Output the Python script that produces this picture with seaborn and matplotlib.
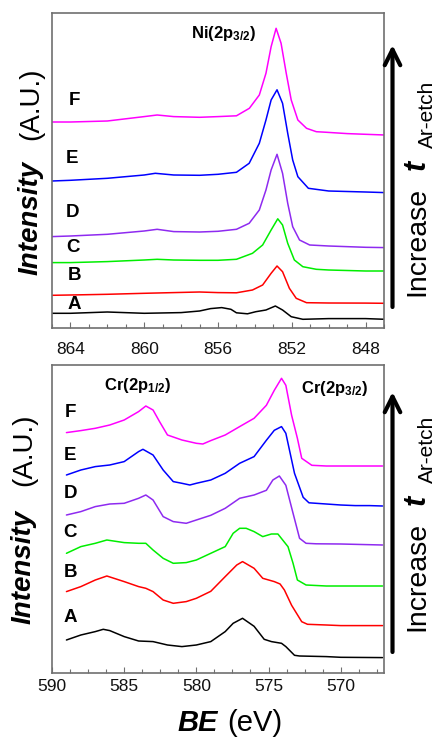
import numpy as np
import pandas as pd
import seaborn as sns
import matplotlib.pyplot as plt
from matplotlib.ticker import MultipleLocator

# Ni(2p3/2) spectra, top panel (BE in eV, stacked intensity)
ni_A_be = [865, 864, 862, 860, 858, 857, 856.4, 855.8, 855.3, 855, 854.4, 853.95, 853.4, 852.89, 852.5, 852.03, 851.4, 850, 848, 846.95]
ni_A = [15, 15, 16.3, 15, 15.7, 17.3, 19.7, 20.7, 19, 15.5, 14.5, 16.6, 18.3, 22.3, 18.3, 11.6, 9, 9.7, 9.7, 9]
ni_B_be = [865, 864, 862, 860, 858.4, 857, 856, 855, 854.13, 853.58, 853.12, 852.8, 852.5, 852.13, 851.76, 851.2, 850, 848, 846.95]
ni_B = [33, 33.3, 34, 35, 35.7, 36.3, 35.7, 35.5, 38.3, 43.3, 55, 62.3, 56.6, 40, 30, 25.6, 25.3, 25.2, 25]
ni_C_be = [865, 864, 862, 860, 859.3, 858.4, 857, 856, 855, 854.13, 853.58, 853.12, 852.76, 852.5, 852.22, 851.86, 851.4, 850.67, 850, 848, 846.95]
ni_C = [65.7, 65.7, 66.7, 68.3, 69, 68.3, 68, 68, 69, 75, 83.3, 98.3, 109.5, 103.3, 85, 68.3, 61.6, 59, 58.3, 57.3, 57.3]
ni_D_be = [865, 864, 862, 860, 859.3, 858.4, 857, 856, 855, 854.31, 853.76, 853.4, 853.12, 852.8, 852.5, 852.22, 851.95, 851.58, 851.03, 850, 848, 846.95]
ni_D = [91.7, 92.3, 94, 97.3, 99, 96.7, 96.3, 97, 99, 105, 118.3, 138.3, 158.3, 174, 155, 125, 101.6, 88.3, 83.3, 82.3, 81, 80.7]
ni_E_be = [865, 864, 862, 860, 859.4, 858.4, 857, 856, 855, 854.31, 853.76, 853.4, 853.12, 852.8, 852.5, 852.22, 851.95, 851.67, 851.1, 850, 848, 846.95]
ni_E = [147.3, 148, 150, 153.3, 155, 153.3, 153, 154, 156, 165, 185, 208.3, 228.3, 238.5, 225, 195, 168.3, 151.6, 140, 137.3, 136.3, 135.7]
ni_F_be = [865, 864, 862, 860, 859.3, 858.4, 857, 856, 855, 854.3, 853.76, 853.4, 853.12, 852.85, 852.58, 852.3, 852.03, 851.67, 851.2, 850.67, 850.1, 849, 848, 846.95]
ni_F = [206.3, 206.3, 207.3, 211.7, 213.3, 211.7, 211, 211.7, 212.5, 220, 233.3, 255, 281.6, 300, 285, 255, 228.3, 208.3, 200, 196.6, 196, 194.7, 194, 193.3]

# Cr(2p) spectra, bottom panel
cr_A_be = [589, 588, 587, 586.45, 586, 585, 584, 583, 582, 581, 580, 579, 578, 577.45, 576.8, 576, 575.3, 574.8, 574.1, 573.8, 573.2, 572.85, 571, 570, 567.1]
cr_A = [33.3, 38.3, 41.7, 44, 42.7, 36.7, 32.3, 31.7, 28.3, 26.7, 28.3, 31.7, 41.7, 50, 55, 47, 34, 31.7, 30, 26.7, 18, 17.3, 16.7, 16, 15.7]
cr_B_be = [589, 588, 587, 586.2, 585, 584, 583.5, 583, 582.3, 581.6, 580.7, 580, 579, 578, 577.2, 576.8, 576, 575.4, 574.6, 574.2, 573.9, 573.4, 572.7, 572.3, 571, 570, 567.1]
cr_B = [81.7, 86.7, 93.3, 97.3, 91.7, 86.7, 85, 81.7, 73.3, 70, 71.7, 75, 82, 96.7, 108.3, 111.7, 105, 95, 91.7, 89.3, 83.3, 68, 51.6, 49, 48.3, 47.7, 47.7]
cr_C_be = [589, 588, 587, 586.2, 585, 584, 583.5, 583, 582.3, 581.6, 580.7, 580, 579, 578, 577.45, 577, 576.55, 576, 575.4, 574.8, 574.35, 573.65, 573.3, 573, 572.4, 571, 570, 567.1]
cr_C = [120, 126.7, 130, 133.3, 130.7, 130, 130, 123.3, 115, 110, 110.7, 113.3, 120, 126.7, 140, 145, 145, 141.7, 136.7, 139.3, 139.3, 126.6, 110, 93.3, 88.3, 87.3, 87.3, 87.3]
cr_D_be = [589, 588, 587, 586, 585, 584, 583.5, 583, 582.3, 581.6, 580.7, 580, 579, 578, 577, 576, 575.15, 574.7, 574.25, 573.8, 573.3, 572.85, 572.4, 571.7, 570, 567.1]
cr_D = [158.3, 161.7, 166.7, 169.3, 170, 175, 178.3, 173.3, 156.7, 151.7, 150, 153.3, 158, 165, 175, 178.3, 183, 193.3, 197.3, 188, 160, 135, 130, 129.5, 129.3, 128.3]
cr_E_be = [589, 588, 587, 586, 585, 584, 583.7, 583, 582.3, 581.6, 581, 580.45, 580, 579, 578, 577, 576, 575.15, 574.6, 574.1, 573.8, 573.2, 572.6, 572.2, 571, 570, 569, 568, 567.1]
cr_E = [198.3, 203.3, 206.7, 208.3, 211.7, 221.7, 224, 218.3, 203.3, 191.7, 190, 188.3, 190, 193.3, 200, 210, 216.7, 233, 243, 246.7, 240, 200, 176, 170.5, 169.3, 168.3, 167.7, 167.7, 167.3]
cr_F_be = [589, 588, 587, 586, 585, 584, 583.5, 583, 582.55, 582, 581, 580, 579.55, 579, 578, 577, 576, 575.15, 574.6, 574.1, 573.8, 573.4, 573, 572.7, 572, 571, 570, 567.1]
cr_F = [240.7, 242.7, 245, 248.3, 253.3, 261.7, 267.3, 263.3, 251.7, 238.3, 233.3, 230, 229.3, 232.7, 238.3, 246.7, 255, 268, 283, 295, 288, 258, 235, 215, 208, 207.3, 207.3, 207.3]

samples = ["A", "B", "C", "D", "E", "F"]
colors = ["#000000", "#FF0000", "#00EE00", "#8E2AF0", "#0000FF", "#FF00FF"]

ni_be = [ni_A_be, ni_B_be, ni_C_be, ni_D_be, ni_E_be, ni_F_be]
ni_int = [ni_A, ni_B, ni_C, ni_D, ni_E, ni_F]
cr_be = [cr_A_be, cr_B_be, cr_C_be, cr_D_be, cr_E_be, cr_F_be]
cr_int = [cr_A, cr_B, cr_C, cr_D, cr_E, cr_F]


def to_frame(be_list, int_list):
    rows = []
    for s, be, y in zip(samples, be_list, int_list):
        rows.append(pd.DataFrame({"BE": be, "I": y, "sample": s}))
    return pd.concat(rows, ignore_index=True)


sns.set_style("white")
plt.rcParams["font.family"] = ["Liberation Sans", "DejaVu Sans"]
plt.rcParams["text.color"] = "black"
plt.rcParams["mathtext.fontset"] = "custom"
plt.rcParams["mathtext.rm"] = "Liberation Sans:bold"
plt.rcParams["mathtext.bf"] = "Liberation Sans:bold"
plt.rcParams["mathtext.it"] = "Liberation Sans:italic:bold"

W, H = 440, 741
fig = plt.figure(figsize=(W / 100, H / 100), dpi=100)


def fx(x):
    return x / W


def fy(y):
    return 1 - y / H


ax1 = fig.add_axes([fx(52), fy(328.3), fx(332), 315 / H])
ax2 = fig.add_axes([fx(52), fy(673.3), fx(332), 308.3 / H])

palette = dict(zip(samples, colors))

sns.lineplot(data=to_frame(ni_be, ni_int), x="BE", y="I", hue="sample",
             palette=palette, estimator=None, sort=False, lw=1.1,
             legend=False, ax=ax1)
sns.lineplot(data=to_frame(cr_be, cr_int), x="BE", y="I", hue="sample",
             palette=palette, estimator=None, sort=False, lw=1.1,
             legend=False, ax=ax2)

ax1.set_xlim(865, 847)
ax1.set_ylim(0, 315)
ax1.xaxis.set_major_locator(MultipleLocator(4))
ax1.xaxis.set_minor_locator(MultipleLocator(1))
ax2.set_xlim(590, 567)
ax2.set_ylim(0, 308.3)
ax2.xaxis.set_major_locator(MultipleLocator(5))
ax2.xaxis.set_minor_locator(MultipleLocator(1.25))

for ax, pad in [(ax1, 10), (ax2, 4)]:
    ax.set_xlabel("")
    ax.set_ylabel("")
    ax.set_yticks([])
    ax.tick_params(axis="x", which="both", direction="in", bottom=True,
                   color="#707070", labelsize=12.5, pad=pad, labelcolor="#111111")
    ax.tick_params(axis="x", which="major", length=4, width=0.8)
    ax.tick_params(axis="x", which="minor", length=3, width=0.8)
    for sp in ax.spines.values():
        sp.set_color("#707070")
        sp.set_linewidth(1.2)

# sample letters
ni_lab_y = [24, 53, 81, 116, 170, 228]
ni_lab_x = [863.8, 863.8, 863.85, 863.9, 863.9, 863.8]
for s, x, y in zip(samples, ni_lab_x, ni_lab_y):
    ax1.text(x, y, s, fontsize=13.5, fontweight="bold", ha="center", va="center")
cr_lab_y = [56, 101, 141, 180, 218, 261]
for s, y in zip(samples, cr_lab_y):
    ax2.text(588.75, y, s, fontsize=13.5, fontweight="bold", ha="center", va="center")

ax1.text(855.7, 295, r"Ni(2p$_{\mathrm{3/2}}$)", fontsize=12, fontweight="bold",
         ha="center", va="center")
ax2.text(584.1, 288, r"Cr(2p$_{\mathrm{1/2}}$)", fontsize=12, fontweight="bold",
         ha="center", va="center")
ax2.text(570.4, 285, r"Cr(2p$_{\mathrm{3/2}}$)", fontsize=12, fontweight="bold",
         ha="center", va="center")

# left axis labels
for x0, y_int, y_au in [(31, 218, 104), (24, 567, 450)]:
    fig.text(fx(x0), fy(y_int), "Intensity", rotation=90, fontsize=20,
             fontweight="bold", fontstyle="italic", ha="center", va="center")
    fig.text(fx(x0), fy(y_au), "(A.U.)", rotation=90, fontsize=20,
             ha="center", va="center")

# right arrows and labels
for y0, y1, yc in [(307, 45, 0), (652, 392, 335)]:
    fig.add_artist(plt.Annotation("", xy=(fx(392.5), fy(y1)), xytext=(fx(392.5), fy(y0)),
                                  xycoords="figure fraction", textcoords="figure fraction",
                                  arrowprops=dict(arrowstyle="->", lw=3, color="black",
                                                  mutation_scale=28, shrinkA=0, shrinkB=0)))
    fig.text(fx(417), fy(yc + 241), "Increase", rotation=90, fontsize=20.5,
             ha="center", va="center")
    fig.text(fx(417), fy(yc + 165), "t", rotation=90, fontsize=22,
             fontweight="bold", fontstyle="italic", ha="center", va="center")
    fig.text(fx(427), fy(yc + 114), "Ar-etch", rotation=90, fontsize=15,
             ha="center", va="center")

# bottom axis label
fig.text(fx(218), fy(723), "BE", fontsize=21, fontweight="bold", fontstyle="italic",
         ha="right", va="center")
fig.text(fx(227), fy(723), "(eV)", fontsize=21, ha="left", va="center")

fig.savefig("out.png", dpi=100)
